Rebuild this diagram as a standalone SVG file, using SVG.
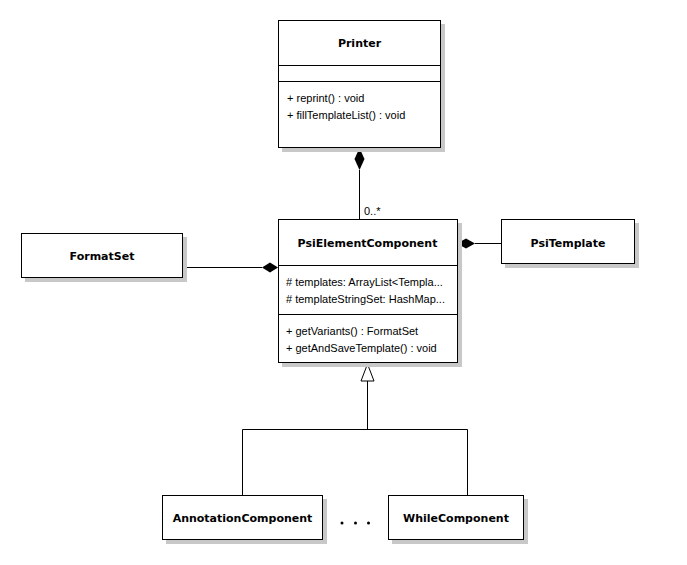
<svg xmlns="http://www.w3.org/2000/svg" width="687" height="565" viewBox="0 0 687 565">
<style>
.box{fill:#fff;stroke:#000;stroke-width:1}
.sh{fill:#c8c8c8}
.t{font-family:"DejaVu Sans","Liberation Sans",sans-serif;font-weight:bold;font-size:11px;text-anchor:middle}
.m{font-family:"Liberation Sans",sans-serif;font-size:11px}
.ln{stroke:#000;stroke-width:1;fill:none}
</style>
<rect width="687" height="565" fill="#fff"/>
<g id="connectors">
<line class="ln" x1="359.5" y1="170" x2="359.5" y2="219"/>
<polygon points="359.5,148 364.5,159 359.5,170 354.5,159" fill="#000"/>
<text class="m" x="364" y="215">0..*</text>
<line class="ln" x1="183" y1="267.5" x2="262" y2="267.5"/>
<polygon points="278,267.5 270,262.5 262,267.5 270,272.5" fill="#000"/>
<line class="ln" x1="475" y1="243.5" x2="501" y2="243.5"/>
<polygon points="457,243.5 466,238.5 475,243.5 466,248.5" fill="#000"/>
<line class="ln" x1="367.5" y1="381" x2="367.5" y2="429.5"/>
<polygon points="367.5,364 374,381 361,381" fill="#fff" stroke="#000"/>
<polyline class="ln" points="242.5,495 242.5,429.5 467.5,429.5 467.5,495"/>
</g>
<g id="Printer">
<rect class="sh" x="282" y="24" width="163" height="128"/>
<rect class="box" x="278.5" y="20.5" width="162" height="127"/>
<line class="ln" x1="278.5" y1="65.5" x2="440.5" y2="65.5"/>
<line class="ln" x1="278.5" y1="81.5" x2="440.5" y2="81.5"/>
<text class="t" x="359.5" y="47">Printer</text>
<text class="m" x="287" y="102">+ reprint() : void</text>
<text class="m" x="287" y="119">+ fillTemplateList() : void</text>
</g>
<g id="PsiElementComponent">
<rect class="sh" x="282" y="223" width="180" height="144"/>
<rect class="box" x="278.5" y="219.5" width="179" height="143"/>
<line class="ln" x1="278.5" y1="265.5" x2="457.5" y2="265.5"/>
<line class="ln" x1="278.5" y1="314.5" x2="457.5" y2="314.5"/>
<text class="t" x="367.5" y="247">PsiElementComponent</text>
<text class="m" x="286" y="286"># templates:  ArrayList&lt;Templa...</text>
<text class="m" x="286" y="303"># templateStringSet:  HashMap...</text>
<text class="m" x="286" y="335">+ getVariants() : FormatSet</text>
<text class="m" x="286" y="352">+ getAndSaveTemplate() : void</text>
</g>
<g id="FormatSet">
<rect class="sh" x="25" y="237" width="162" height="45"/>
<rect class="box" x="21.5" y="233.5" width="161" height="44"/>
<text class="t" x="102" y="260">FormatSet</text>
</g>
<g id="PsiTemplate">
<rect class="sh" x="505" y="223" width="134" height="45"/>
<rect class="box" x="501.5" y="219.5" width="133" height="44"/>
<text class="t" x="568" y="247">PsiTemplate</text>
</g>
<g id="AnnotationComponent">
<rect class="sh" x="166" y="499" width="161" height="45"/>
<rect class="box" x="162.5" y="495.5" width="160" height="44"/>
<text class="t" x="242.5" y="522">AnnotationComponent</text>
</g>
<g id="WhileComponent">
<rect class="sh" x="392" y="499" width="136" height="45"/>
<rect class="box" x="388.5" y="495.5" width="135" height="44"/>
<text class="t" x="456" y="522">WhileComponent</text>
</g>
<g id="dots" fill="#000">
<circle cx="342" cy="523" r="1.5"/>
<circle cx="355.5" cy="523" r="1.5"/>
<circle cx="368.5" cy="523" r="1.5"/>
</g>
</svg>
